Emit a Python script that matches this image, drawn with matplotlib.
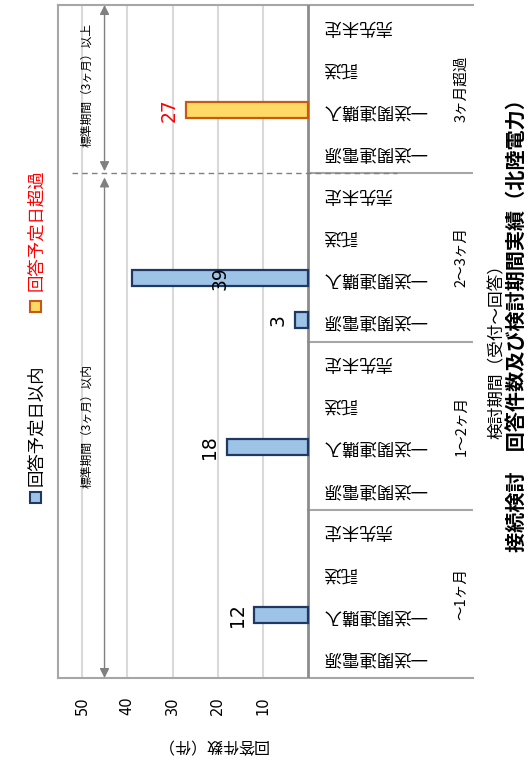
import numpy as np
import matplotlib.pyplot as plt

plt.rcParams['font.family'] = ['Noto Sans CJK JP', 'DejaVu Sans']

# データ (下のグループから順)
groups = ['～1ヶ月', '1～2ヶ月', '2～3ヶ月', '3ヶ月超過']
cats = ['一送関連電源', '一送関連購入', '託送', '売先未定']
within = [[0, 12, 0, 0],
          [0, 18, 0, 0],
          [3, 39, 0, 0],
          [0, 0, 0, 0]]
over = [[0, 0, 0, 0],
        [0, 0, 0, 0],
        [0, 0, 0, 0],
        [0, 27, 0, 0]]
xticks = [10, 20, 30, 40, 50]

W, H = 528, 763
fig = plt.figure(figsize=(W / 100, H / 100), dpi=100)
ax = fig.add_axes([58.3 / W, 85 / H, (473 - 58.3) / W, 673 / H])
ax.set_xlim(55.2, -36.3)
ax.set_ylim(0, 16)

GRAY = '#A6A6A6'
ax.spines['right'].set_visible(False)
for s in ['left', 'top', 'bottom']:
    ax.spines[s].set_color(GRAY)
    ax.spines[s].set_linewidth(1.5)

for v in xticks:
    ax.plot([v, v], [0, 16], color='#D9D9D9', lw=1.5, zorder=0)
ax.axvline(0, color='#8C8C8C', lw=2, zorder=3)
for g in range(1, len(groups)):
    ax.plot([0, -36.3], [g * 4, g * 4], color=GRAY, lw=1.5, zorder=2)

# 棒
bh = 0.38
for g in range(len(groups)):
    for c in range(len(cats)):
        y = g * 4 + c + 0.5
        for vals, fc, ec, tc in [(within, '#9DC3E6', '#1F3864', 'black'),
                                 (over, '#FFD966', '#C55A11', '#FF0000')]:
            v = vals[g][c]
            if v <= 0:
                continue
            ax.barh(y, v, height=bh, left=0, color=fc, edgecolor=ec, lw=1.6, zorder=4)
            if v > 35:
                ax.text(v / 2, y, str(v), rotation=90, ha='center', va='center',
                        fontsize=13.5, color=tc, family='DejaVu Sans', zorder=5)
            else:
                ax.annotate(str(v), (v, y), xytext=(-17, 0), textcoords='offset pixels',
                            rotation=90, ha='center', va='center', fontsize=13.5,
                            color=tc, family='DejaVu Sans', zorder=5)

# 分類ラベル (上下反転)
for g in range(len(groups)):
    for c, name in enumerate(cats):
        ax.text(-3.2, g * 4 + c + 0.5, name, rotation=180, ha='left', va='center',
                fontsize=12.5, color='black')
    ax.text(-33.7, g * 4 + 2, groups[g], rotation=90, ha='center', va='center',
            fontsize=10.5)

# 標準期間の矢印
ax.plot([52.2, -19.5], [12, 12], color='#808080', lw=1, ls=(0, (4, 3)), zorder=3)
arr = dict(arrowstyle='<|-|>', color='#808080', lw=1, mutation_scale=14,
           shrinkA=0, shrinkB=0)
ax.annotate('', xy=(45, 16), xytext=(45, 12.05), arrowprops=arr)
ax.annotate('', xy=(45, 11.9), xytext=(45, 0), arrowprops=arr)
ax.text(48.9, 14.1, '標準期間（3ヶ月）以上', rotation=90, ha='center', va='center', fontsize=8.5)
ax.text(48.9, 6.0, '標準期間（3ヶ月）以内', rotation=90, ha='center', va='center', fontsize=8.5)

ax.set_yticks([])
ax.set_xticks(xticks)
ax.set_xticklabels([str(v) for v in xticks], rotation=90, fontsize=10.5,
                   family='DejaVu Sans', va='top', ha='center')
ax.tick_params(axis='x', length=0, pad=13)

# 軸タイトル・凡例・タイトル
fig.text(212 / W, 1 - 744 / H, '回答件数（件）', rotation=180, ha='center', va='center', fontsize=11.5)
fig.text(497 / W, 1 - 348 / H, '検討期間（受付～回答）', rotation=90, ha='center', va='center', fontsize=12)
fig.text(517 / W, 1 - 321 / H, '接続検討　回答件数及び検討期間実績（北陸電力）', rotation=90,
         ha='center', va='center', fontsize=14.5, fontweight='bold')

fig.text(36 / W, 1 - 425 / H, '回答予定日以内', rotation=90, ha='center', va='center', fontsize=12.5)
fig.text(36 / W, 1 - 230 / H, '回答予定日超過', rotation=90, ha='center', va='center', fontsize=12.5,
         color='#FF0000')
fig.add_artist(plt.Rectangle((30 / W, 1 - 503 / H), 11 / W, 11 / H, transform=fig.transFigure,
                             facecolor='#9DC3E6', edgecolor='#1F3864', lw=1.5))
fig.add_artist(plt.Rectangle((30 / W, 1 - 312 / H), 11 / W, 11 / H, transform=fig.transFigure,
                             facecolor='#FFD966', edgecolor='#C55A11', lw=1.5))

fig.savefig('out.png', dpi=100)
